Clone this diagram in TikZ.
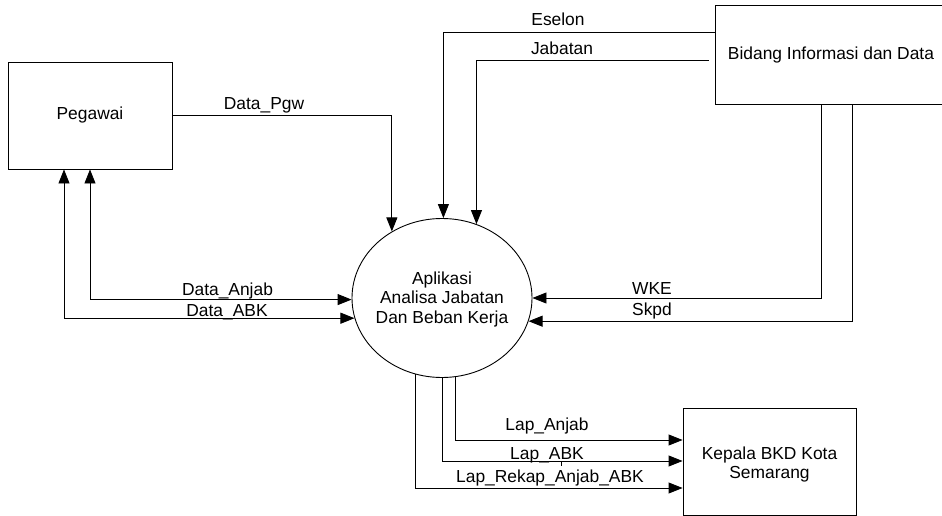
\documentclass[tikz,border=0pt]{standalone}
\usepackage{fontspec}
\setmainfont{Liberation Sans}
\usetikzlibrary{arrows.meta,shapes.geometric}
\begin{document}
\begin{tikzpicture}[x=1pt,y=-1pt,
  tip/.tip={Triangle[length=14pt,width=11pt]},
  flow/.style={draw=black, line width=0.9pt, -tip},
  twoway/.style={draw=black, line width=0.9pt, tip-tip},
  entity/.style={draw=black, line width=0.9pt, rectangle, inner sep=0pt},
  process/.style={draw=black, line width=0.9pt, ellipse, inner sep=0pt},
  lbl/.style={font=\fontsize{17.4}{19.5}\selectfont, inner sep=0pt, anchor=base},
  txt/.style={font=\fontsize{17.4}{19.5}\selectfont, inner sep=0pt}
]
\useasboundingbox (0,0) rectangle (942,516);

% external entities and the process
\node[entity, minimum width=164pt, minimum height=107pt, txt] (peg) at (90,115.5) {Pegawai};
\node[entity, minimum width=245pt, minimum height=99pt] (bid) at (837.5,54.5) {};
\node[txt] (bidT) at (831,55.5) {Bidang Informasi dan Data};
\node[entity, minimum width=173pt, minimum height=107pt] (kep) at (769.5,461.5) {};
\node[txt] (kepT) at (769.5,465) {\begin{tabular}{@{}c@{}}Kepala BKD Kota\\Semarang\end{tabular}};
\node[process, minimum width=180pt, minimum height=159pt] (proc) at (442,298) {};
\node[txt] (procT) at (442,300) {\begin{tabular}{@{}c@{}}Aplikasi\\Analisa Jabatan\\Dan Beban Kerja\end{tabular}};

% data flows
\draw[flow] (peg.east) -| (proc.127.9);
\draw[flow] ([yshift=-28pt]bid.north west) -| (proc.89.5);
\draw[flow] ([xshift=-6pt,yshift=-56pt]bid.north west) -| (proc.65.2);
\draw[twoway] (peg.south) |- (proc.181.3);
\draw[twoway] ([xshift=-26pt]peg.south) |- (proc.193.6);
\draw[flow] ([xshift=107pt]bid.south west) |- (proc.0.6);
\draw[flow] ([xshift=138pt]bid.south west) |- (proc.345.7);
\draw[flow] (proc.280.8) |- ([yshift=21.5pt]kep.west);
\draw[flow] (proc.270.7) |- ([yshift=0.5pt]kep.west);
\draw[flow] (proc.251.9) |- ([yshift=-26.5pt]kep.west);
\coordinate (tick) at (561,461);
\draw[line width=0.9pt] (tick) -- ++(0,5);

% flow labels
\node[lbl] (lPgw) at (264,110) {Data\_Pgw};
\node[lbl] (lEs) at (558,26) {Eselon};
\node[lbl] (lJab) at (562,54.5) {Jabatan};
\node[lbl] (lDA) at (227.5,295) {Data\_Anjab};
\node[lbl] (lDB) at (227,316.5) {Data\_ABK};
\node[lbl] (lWKE) at (652,294) {WKE};
\node[lbl] (lSk) at (652,315.7) {Skpd};
\node[lbl] (lLA) at (547,430) {Lap\_Anjab};
\node[lbl] (lLB) at (547,459) {Lap\_ABK};
\node[lbl] (lLR) at (550,482.5) {Lap\_Rekap\_Anjab\_ABK};
\end{tikzpicture}
\end{document}
